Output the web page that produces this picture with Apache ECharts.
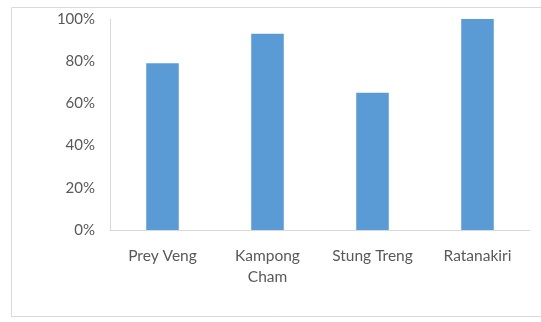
<!DOCTYPE html>
<html>
<head>
<meta charset="utf-8">
<script src="https://cdn.jsdelivr.net/npm/echarts@6/dist/echarts.min.js"></script>
<style>
  html, body { margin: 0; padding: 0; background: #fff; }
  #chart { width: 541px; height: 322px; }
</style>
</head>
<body>
<div id="chart"></div>
<script>
// Share by province (percent)
const provinces = ['Prey Veng', 'Kampong\nCham', 'Stung Treng', 'Ratanakiri'];
const shares = [79, 93, 65, 100];
const yTicks = { min: 0, max: 100, interval: 20 };

const chart = echarts.init(document.getElementById('chart'));
chart.setOption({
  animation: false,
  backgroundColor: '#ffffff',
  textStyle: { fontFamily: 'Lato, "Open Sans", sans-serif' },
  graphic: [{
    type: 'rect',
    shape: { x: 11.5, y: 7.5, width: 560, height: 309 },
    style: { fill: 'none', stroke: '#d9d9d9', lineWidth: 1 },
    silent: true
  }],
  grid: { left: 110, right: 11, top: 19, bottom: 92 },
  xAxis: {
    type: 'category',
    data: provinces,
    axisLine: { lineStyle: { color: '#d9d9d9' } },
    axisTick: { show: false },
    axisLabel: {
      interval: 0, hideOverlap: false,
      color: '#595959', fontSize: 15.5, margin: 15, lineHeight: 21,
      fontFamily: 'Lato, "Open Sans", sans-serif'
    }
  },
  yAxis: {
    type: 'value',
    min: yTicks.min, max: yTicks.max, interval: yTicks.interval,
    axisLine: { show: true, lineStyle: { color: '#d9d9d9' } },
    axisTick: { show: false },
    splitLine: { show: false },
    axisLabel: {
      color: '#595959', fontSize: 15, margin: 15,
      formatter: '{value}%',
      fontFamily: 'Lato, "Open Sans", sans-serif'
    }
  },
  series: [{
    type: 'bar',
    data: shares,
    barWidth: '31%',
    itemStyle: { color: '#5b9bd5' }
  }]
});
</script>
</body>
</html>
